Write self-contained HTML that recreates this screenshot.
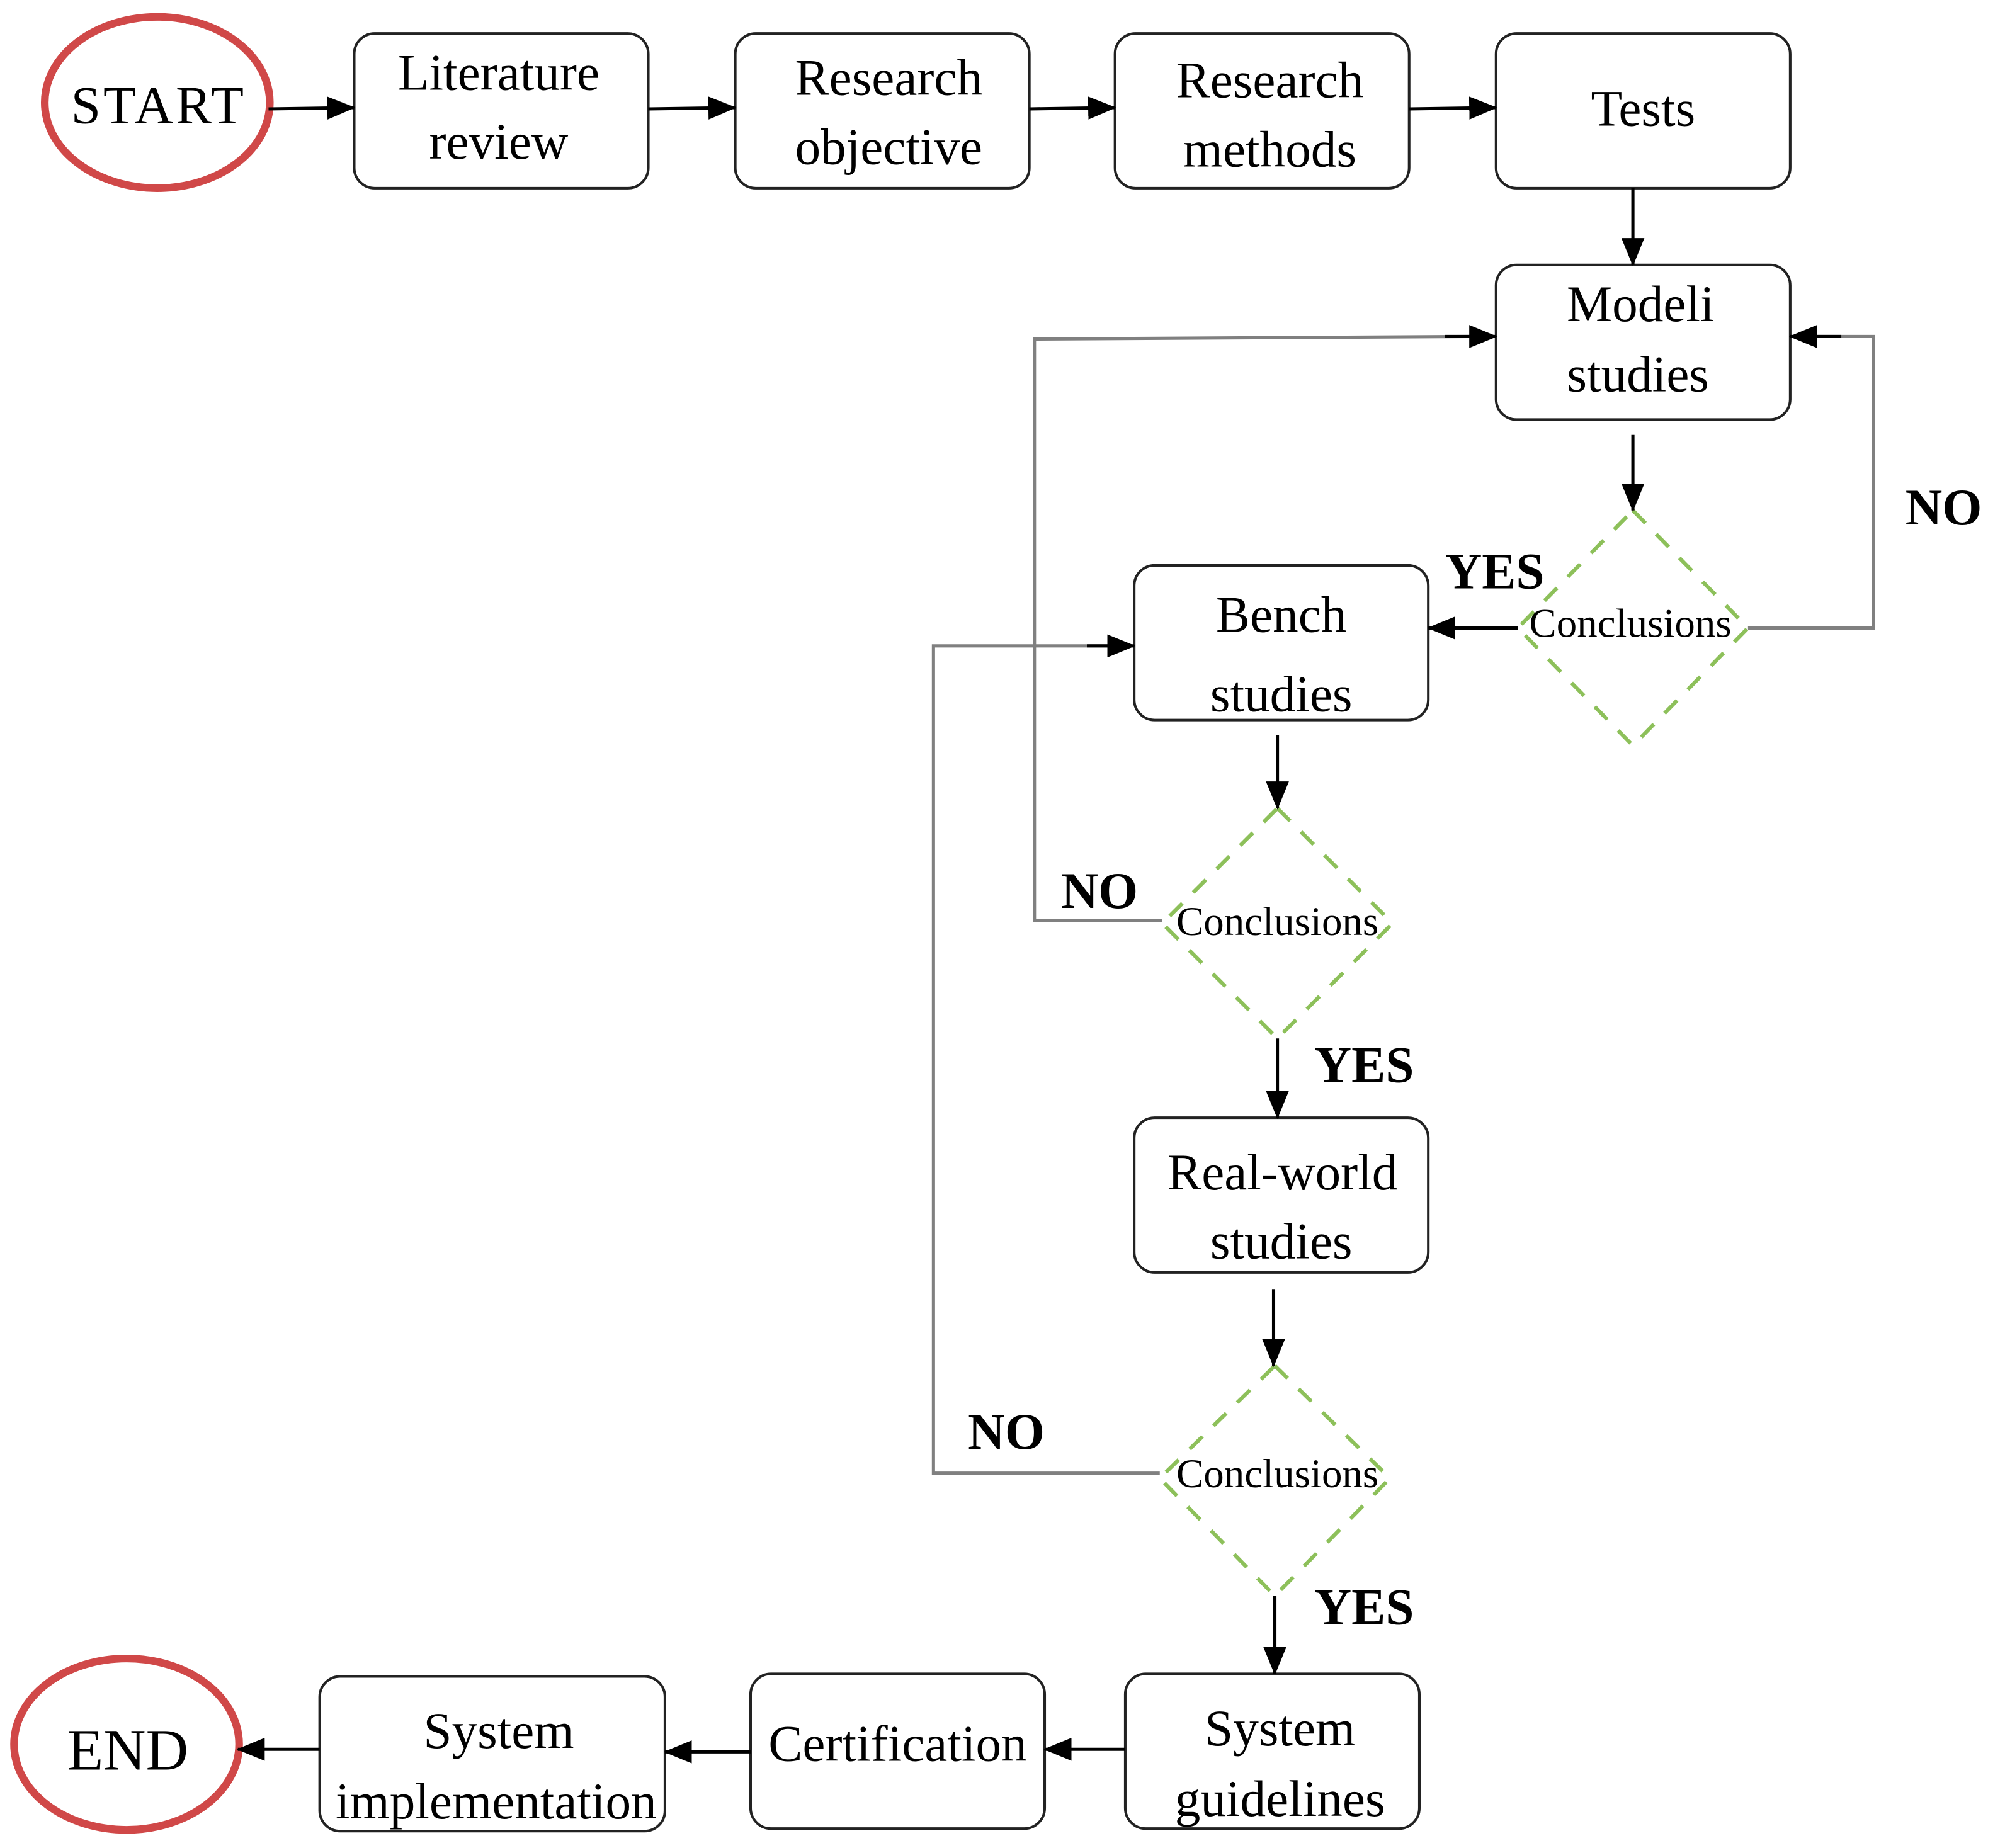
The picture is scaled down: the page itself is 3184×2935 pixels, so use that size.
<!DOCTYPE html>
<html><head><meta charset="utf-8"><style>
html,body{margin:0;padding:0;background:#fff}
svg{display:block}
text{font-family:"Liberation Serif",serif;fill:#000}
</style></head><body>
<svg width="3184" height="2935" viewBox="0 0 1568 1445" xmlns="http://www.w3.org/2000/svg">
<defs>
<marker id="a" markerWidth="22" markerHeight="18" refX="21" refY="9" orient="auto" markerUnits="userSpaceOnUse" viewBox="0 0 22 18">
<path d="M0,0 L22,9 L0,18 z" fill="#000"/>
</marker>
</defs>
<rect width="1568" height="1445" fill="#fff"/>
<g fill="none" stroke="#d04848" stroke-width="6">
<ellipse cx="123" cy="80" rx="88" ry="67"/>
<ellipse cx="99" cy="1364" rx="88" ry="67"/>
</g>
<g fill="#fff" stroke="#222" stroke-width="2">
<rect x="277" y="26" width="230" height="121" rx="16"/>
<rect x="575" y="26" width="230" height="121" rx="16"/>
<rect x="872" y="26" width="230" height="121" rx="16"/>
<rect x="1170" y="26" width="230" height="121" rx="16"/>
<rect x="1170" y="207" width="230" height="121" rx="16"/>
<rect x="887" y="442" width="230" height="121" rx="16"/>
<rect x="887" y="874" width="230" height="121" rx="16"/>
<rect x="880" y="1309" width="230" height="121" rx="16"/>
<rect x="587" y="1309" width="230" height="121" rx="16"/>
<rect x="250" y="1311" width="270" height="121" rx="16"/>
</g>
<g fill="none" stroke="#8dc05a" stroke-width="3" stroke-dasharray="14,12">
<path d="M1277,399 L1367,491 L1277,583 L1187,491 Z"/>
<path d="M999,632 L1089,722 L999,812 L909,722 Z"/>
<path d="M997,1068 L1087,1156 L997,1248 L907,1156 Z"/>
</g>
<g fill="none" stroke="#808080" stroke-width="2.5">
<polyline points="1367,491 1465,491 1465,263 1410,263"/>
<polyline points="909,720 809,720 809,265 1150,263"/>
<polyline points="907,1152 730,1152 730,505 870,505"/>
</g>
<g fill="none" stroke="#000" stroke-width="2.5" marker-end="url(#a)">
<line x1="210" y1="85" x2="277" y2="84"/>
<line x1="507" y1="85" x2="575" y2="84"/>
<line x1="805" y1="85" x2="872" y2="84"/>
<line x1="1102" y1="85" x2="1170" y2="84"/>
<line x1="1277" y1="147" x2="1277" y2="207"/>
<line x1="1277" y1="340" x2="1277" y2="399"/>
<line x1="1187" y1="491" x2="1117" y2="491"/>
<line x1="999" y1="575" x2="999" y2="632"/>
<line x1="999" y1="812" x2="999" y2="874"/>
<line x1="996" y1="1008" x2="996" y2="1068"/>
<line x1="997" y1="1248" x2="997" y2="1309"/>
<line x1="880" y1="1368" x2="817" y2="1368"/>
<line x1="587" y1="1370" x2="520" y2="1370"/>
<line x1="250" y1="1368" x2="186" y2="1368"/>
<line x1="1440" y1="263" x2="1400" y2="263"/>
<line x1="1130" y1="263" x2="1170" y2="263"/>
<line x1="850" y1="505" x2="887" y2="505"/>
</g>
<g font-size="40" text-anchor="middle">
<text x="124" y="96" font-size="42" letter-spacing="2">START</text>
<text x="100" y="1384" font-size="46">END</text>
<text x="390" y="70">Literature</text><text x="390" y="124">review</text>
<text x="695" y="74">Research</text><text x="695" y="128">objective</text>
<text x="993" y="76">Research</text><text x="993" y="130">methods</text>
<text x="1285" y="98">Tests</text>
<text x="1283" y="251">Modeli</text><text x="1281" y="306">studies</text>
<text x="1002" y="494">Bench</text><text x="1002" y="556">studies</text>
<text x="1003" y="930">Real-world</text><text x="1002" y="984">studies</text>
<text x="1001" y="1365">System</text><text x="1001" y="1420">guidelines</text>
<text x="702" y="1377">Certification</text>
<text x="390" y="1367">System</text><text x="388" y="1422">implementation</text>
</g>
<g font-size="32" text-anchor="middle">
<text x="1275" y="498">Conclusions</text>
<text x="999" y="731">Conclusions</text>
<text x="999" y="1163">Conclusions</text>
</g>
<g font-size="40" font-weight="bold">
<text x="1490" y="410">NO</text>
<text x="1130" y="460">YES</text>
<text x="830" y="710">NO</text>
<text x="1028" y="846">YES</text>
<text x="757" y="1133">NO</text>
<text x="1028" y="1270">YES</text>
</g>
</svg>
</body></html>
